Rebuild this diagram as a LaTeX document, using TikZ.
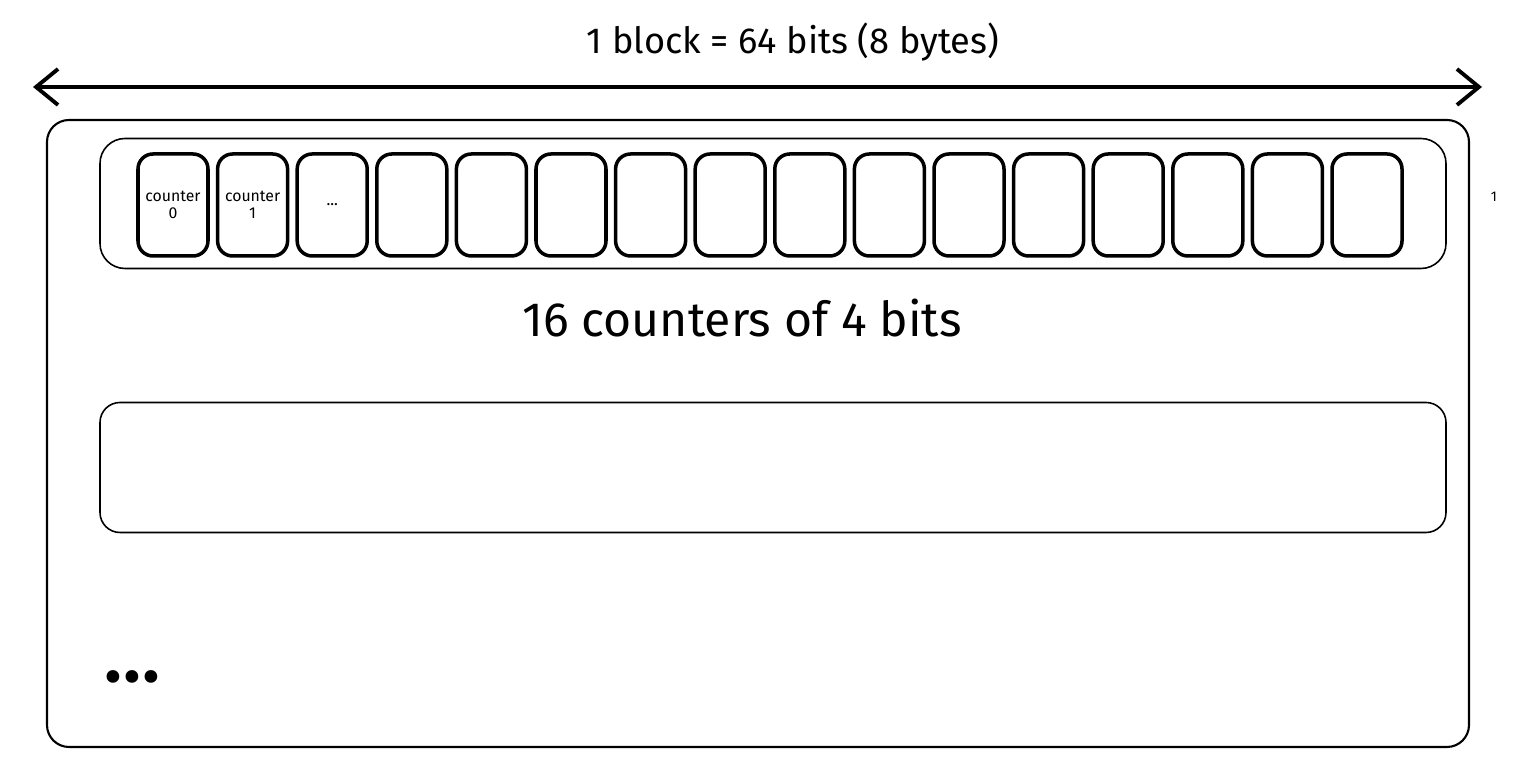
\documentclass[tikz,border=0pt]{standalone}
\usepackage{fontspec}
\setmainfont{Fira Sans}
\usetikzlibrary{arrows.meta}

\begin{document}
\begin{tikzpicture}[
    outerbox/.style = {draw, line width=0.6pt, rounded corners=0.22cm,
                       minimum width=14.22cm, minimum height=6.27cm},
    rowbox/.style   = {draw, line width=0.45pt, rounded corners=0.25cm,
                       minimum width=13.46cm, minimum height=1.3cm},
    cellbox/.style  = {draw, line width=1pt, rounded corners=0.15cm,
                       minimum width=0.70cm, minimum height=1.02cm,
                       align=center, font=\fontsize{4.5}{5}\selectfont,
                       inner sep=0pt}
  ]
  \useasboundingbox (0,0) rectangle (15.26,7.74);

  % size arrow over the block
  \node (title) at (7.93,7.32) {\fontsize{10.3}{12}\selectfont 1 block = 64 bits (8 bytes)};
  \coordinate (aleft) at (0.33,6.87);
  \coordinate (aright) at (14.82,6.87);
  \draw[line width=1.1pt, {Straight Barb[length=2.2mm,width=3.6mm]}-{Straight Barb[length=2.2mm,width=3.6mm]}]
    (aleft) -- (aright);

  % the block
  \node[outerbox] (block) at (7.58,3.405) {};
  \node[rowbox] (row0) at (7.73,5.705) {};
  \node[rowbox, rounded corners=0.2cm] (row1) at (7.73,3.065) {};

  % 16 counters
  \foreach \i in {0,...,15}
    \node[cellbox] (c\i) at (1.73+0.796*\i,5.69) {};
  \node[font=\fontsize{4.5}{5}\selectfont, align=center] at (c0) {counter\\0};
  \node[font=\fontsize{4.5}{5}\selectfont, align=center] at (c1) {counter\\1};
  \node[font=\fontsize{4.5}{5}\selectfont] at (c2) {...};

  \node[font=\fontsize{4}{5}\selectfont] (one) at (14.94,5.77) {1};
  \node (desc) at (7.42,4.56) {\fontsize{13.7}{16}\selectfont 16 counters of 4 bits};
  \node[font=\bfseries\fontsize{13}{16}\selectfont] (more) at (1.32,0.92) {•\hspace{0.9pt}•\hspace{0.9pt}•};
\end{tikzpicture}
\end{document}
